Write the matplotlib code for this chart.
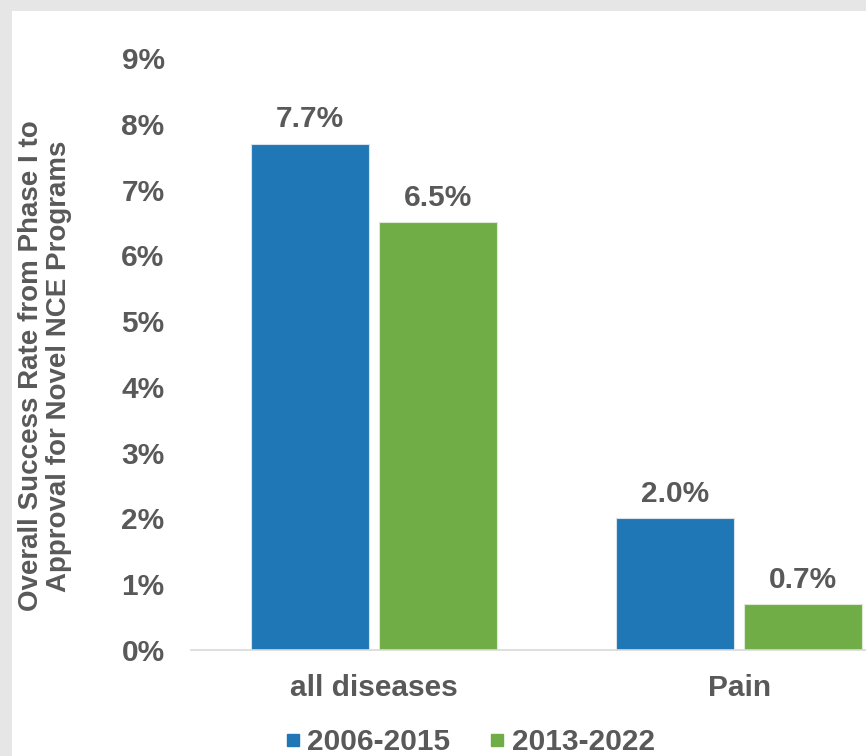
import numpy as np
import matplotlib
matplotlib.use("Agg")
import matplotlib.pyplot as plt
from matplotlib.patches import Rectangle
from matplotlib.lines import Line2D

# Chart data.
CATEGORIES = ["all diseases", "Pain"]
SERIES = ["2006-2015", "2013-2022"]
RATE_2006_2015 = [0.077, 0.020]
RATE_2013_2022 = [0.065, 0.007]
LABELS_2006_2015 = ["7.7%", "2.0%"]
LABELS_2013_2022 = ["6.5%", "0.7%"]
Y_TICKS = [0, 0.01, 0.02, 0.03, 0.04, 0.05, 0.06, 0.07, 0.08, 0.09]
Y_TICK_LABELS = ["0%", "1%", "2%", "3%", "4%", "5%", "6%", "7%", "8%", "9%"]

BLUE = "#1f77b6"
GREEN = "#70ad47"
TEXT = "#595959"
FONT = "Liberation Sans"
SIZE = 21.5

W, H = 866, 756
fig = plt.figure(figsize=(W / 100, H / 100), dpi=100, facecolor="#e6e6e6")
# White chart panel inside the gray frame.
fig.patches.append(Rectangle((12 / W, 0), 1, 1 - 11 / H, transform=fig.transFigure,
                             facecolor="white", edgecolor="none", zorder=-10))

# The plot area runs past the right edge of the picture (cropped chart).
ax = fig.add_axes([191 / W, 1 - 650 / H, (922 - 191) / W, (650 - 58) / H])
ax.set_facecolor("none")

x = np.arange(len(CATEGORIES))
width = 0.322
offset = 0.175
b1 = ax.bar(x - offset, RATE_2006_2015, width, color=BLUE, edgecolor="#d8e2ea",
            linewidth=0.8, label=SERIES[0])
b2 = ax.bar(x + offset, RATE_2013_2022, width, color=GREEN, edgecolor="#dde8d5",
            linewidth=0.8, label=SERIES[1])

for bars, labels in ((b1, LABELS_2006_2015), (b2, LABELS_2013_2022)):
    for bar, lab in zip(bars, labels):
        ax.annotate(lab, (bar.get_x() + bar.get_width() / 2, bar.get_height()),
                    xytext=(0, 7.5), textcoords="offset points", ha="center", va="bottom",
                    fontsize=SIZE, fontweight="bold", color=TEXT, family=FONT)

ax.set_xlim(-0.5, 1.5)
ax.set_ylim(0, 0.09)
ax.set_yticks(Y_TICKS)
ax.set_yticklabels(Y_TICK_LABELS)
ax.set_xticks(x)
ax.set_xticklabels(CATEGORIES)
for lab in ax.get_xticklabels() + ax.get_yticklabels():
    lab.set_fontsize(SIZE)
    lab.set_fontweight("bold")
    lab.set_color(TEXT)
    lab.set_family(FONT)
ax.tick_params(axis="both", length=0)
ax.tick_params(axis="y", pad=19)
ax.tick_params(axis="x", pad=17)
for side in ("top", "right", "left"):
    ax.spines[side].set_visible(False)
ax.spines["bottom"].set_color("#d9d9d9")
ax.spines["bottom"].set_linewidth(1.2)

fig.text(45 / W, 1 - 366 / H,
         "Overall Success Rate from Phase I to\nApproval for Novel NCE Programs",
         rotation=90, ha="center", va="center", multialignment="center",
         fontsize=SIZE * 0.93, fontweight="bold", color=TEXT, family=FONT,
         linespacing=1.12)

handles = [Line2D([], [], marker="s", linestyle="none", markersize=8.5, color=BLUE),
           Line2D([], [], marker="s", linestyle="none", markersize=8.5, color=GREEN)]
leg = fig.legend(handles, SERIES, loc="center", bbox_to_anchor=(470 / W, 1 - 742 / H),
                 ncol=2, frameon=False, handlelength=0.5, handletextpad=0.25,
                 columnspacing=1.3, prop={"family": FONT, "weight": "bold", "size": SIZE})
for t in leg.get_texts():
    t.set_color(TEXT)

fig.savefig("out.png", dpi=100, facecolor=fig.get_facecolor())
